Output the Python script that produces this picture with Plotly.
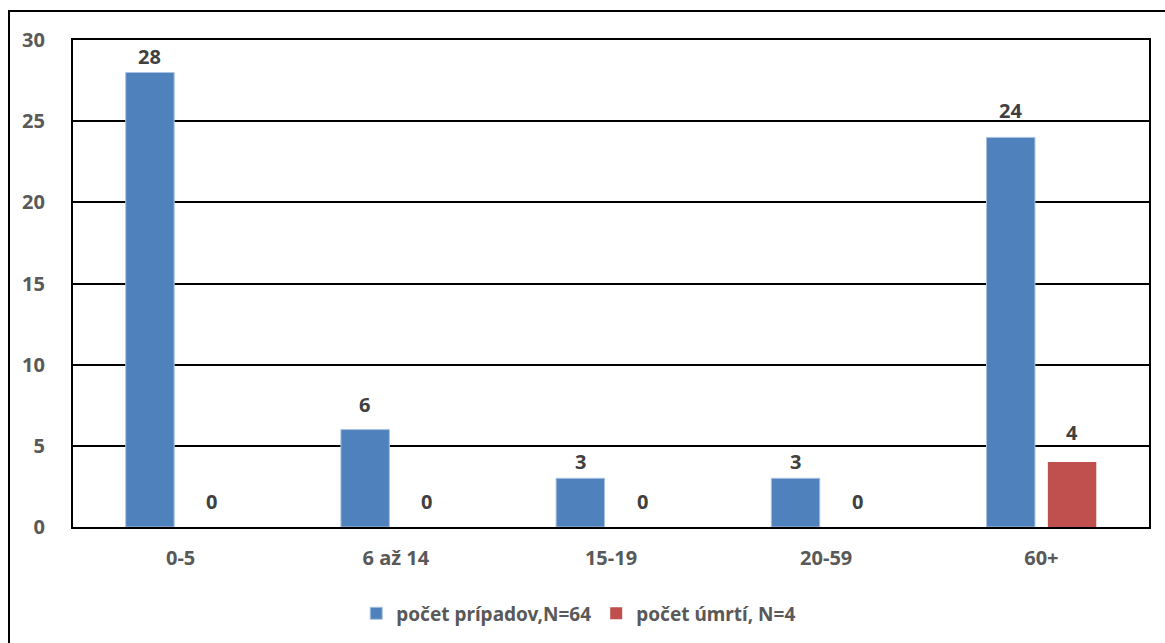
import plotly.graph_objects as go

# Age groups and counts
age_groups = ["0-5", "6 až 14", "15-19", "20-59", "60+"]
cases = [28, 6, 3, 3, 24]
deaths = [0, 0, 0, 0, 4]
series_names = ["počet prípadov,N=64", "počet úmrtí, N=4"]
y_ticks = [0, 5, 10, 15, 20, 25, 30]

# pixel offsets of the value labels above each bar
case_label_shift = [16, 25, 17, 17, 27]
death_label_shift = [26, 26, 26, 26, 30]

BLUE = "#4F81BD"
RED = "#C0504D"
FONT = "Noto Sans"
FS = 20

fig = go.Figure()
fig.add_trace(go.Bar(
    x=age_groups, y=cases, name=series_names[0],
    marker=dict(color=BLUE, line=dict(color="#A9C1E3", width=1)),
))
fig.add_trace(go.Bar(
    x=age_groups, y=deaths, name=series_names[1],
    marker=dict(color=RED, line=dict(width=0)),
))

# value labels
for i, (c, d) in enumerate(zip(cases, deaths)):
    fig.add_annotation(x=i, y=c, text=str(c), showarrow=False, xshift=-31,
                       yshift=case_label_shift[i], yanchor="middle",
                       font=dict(family=FONT, size=FS, color="#404040", weight="bold"))
    fig.add_annotation(x=i, y=d, text=str(d), showarrow=False, xshift=31,
                       yshift=death_label_shift[i], yanchor="middle",
                       font=dict(family=FONT, size=FS, color="#404040", weight="bold"))

# outer frame around the whole chart
fig.add_shape(type="rect", xref="paper", yref="paper",
              x0=(9 - 73) / 1076, x1=(1175 - 73) / 1076,
              y0=-0.4, y1=(528 - 11) / 488,
              line=dict(color="black", width=2), fillcolor="rgba(0,0,0,0)")

fig.update_layout(
    width=1165, height=643,
    margin=dict(l=73, r=16, t=40, b=115),
    paper_bgcolor="white", plot_bgcolor="white",
    barmode="group", bargap=0.43, bargroupgap=0.21,
    font=dict(family=FONT, size=FS, color="#595959"),
    showlegend=True,
    legend=dict(orientation="h", x=0.47, xanchor="center", y=-0.175, yanchor="middle",
                font=dict(family=FONT, size=19, color="#595959", weight="bold"),
                itemwidth=30, tracegroupgap=0),
    xaxis=dict(showline=True, linecolor="black", linewidth=2, mirror=True,
               ticks="", ticklabelstandoff=12,
               tickfont=dict(family=FONT, size=FS, color="#595959", weight="bold")),
    yaxis=dict(range=[0, 30], tickvals=y_ticks, showline=True, linecolor="black",
               linewidth=2, mirror=True, showgrid=True, gridcolor="black", gridwidth=1.5,
               ticks="", ticklabelstandoff=22, zeroline=False,
               tickfont=dict(family=FONT, size=FS, color="#595959", weight="bold")),
)

fig.write_html("out.html")
